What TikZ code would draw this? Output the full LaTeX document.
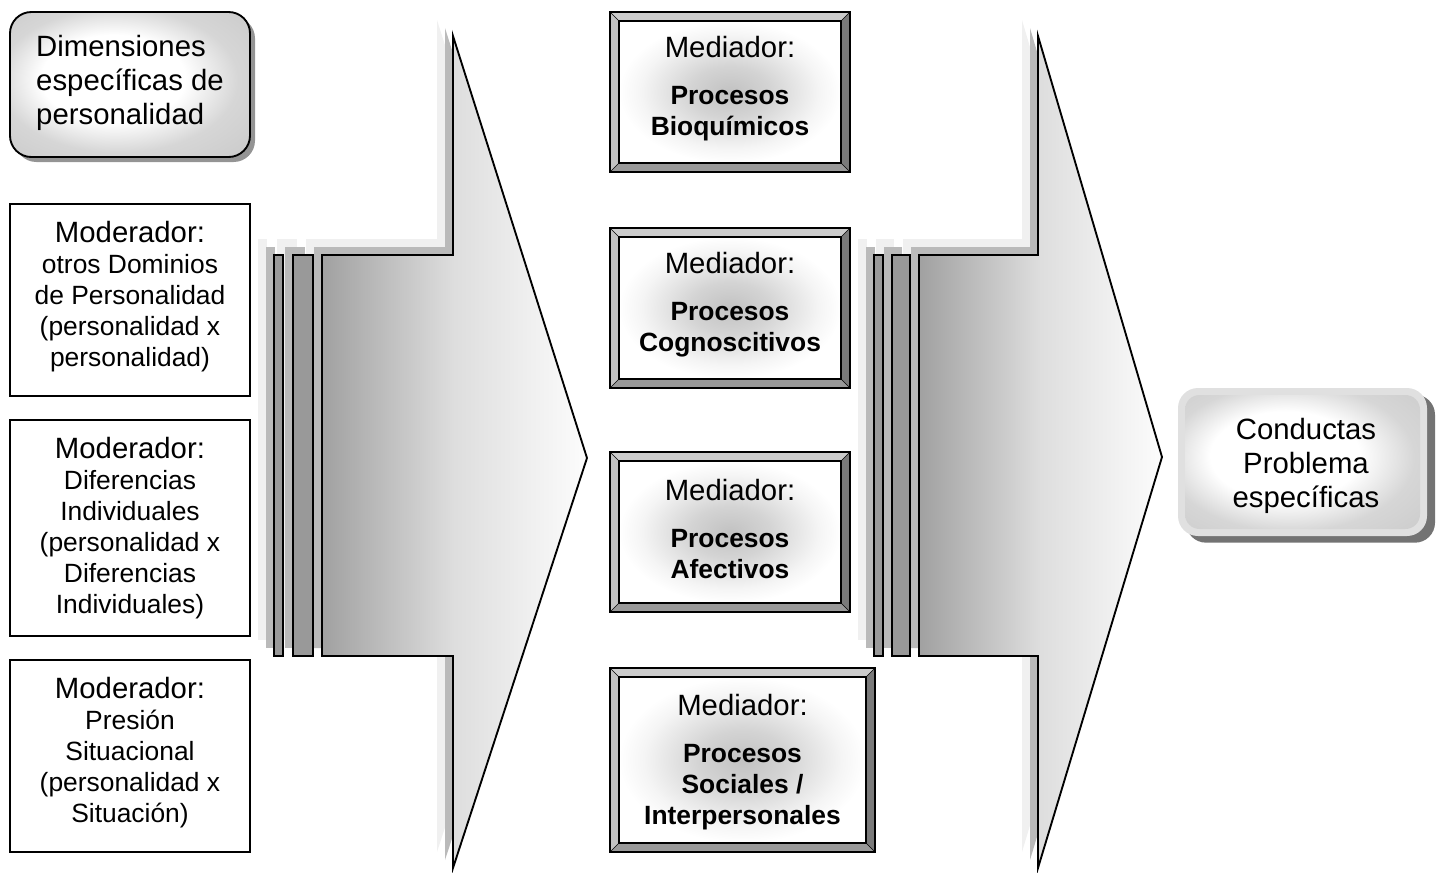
\documentclass[tikz,border=0pt]{standalone}
\usepackage{fontspec}
\setmainfont{Liberation Sans}
\usetikzlibrary{calc,shadows}

% horizontal fade of the big chevrons: dark at the tail, almost white at the tip
\pgfdeclarehorizontalshading{chevronfade}{100bp}{color(0bp)=(black!37); color(25bp)=(black!37); color(50bp)=(black!13); color(75bp)=(black!1); color(100bp)=(black!1)}
% soft glow: white centre, grey rim
\pgfdeclareradialshading{rimglow}{\pgfpoint{-5bp}{3bp}}{color(0bp)=(white); color(15bp)=(white); color(25bp)=(black!16); color(50bp)=(black!26)}
% grey haze behind the mediator labels, white towards the frame
\pgfdeclareradialshading{centrehaze}{\pgfpoint{0bp}{0bp}}{color(0bp)=(black!24); color(9bp)=(black!17); color(20bp)=(black!4); color(25bp)=(white); color(50bp)=(white)}

\tikzset{
  outline/.style={draw=black, line width=1.4pt},
  modbox/.style={outline, fill=white, minimum width=180pt, inner sep=0pt, outer sep=0pt},
  modtext/.style={align=center, inner sep=0pt, font=\fontsize{19.8}{23.25}\selectfont},
  medtext/.style={align=center, inner sep=0pt, font=\fontsize{19.8}{23.25}\selectfont\bfseries},
  bigtext/.style={inner sep=0pt, font=\fontsize{22}{25.5}\selectfont},
  farshade/.style={fill=black!6},
  nearshade/.style={fill=black!27},
  barfill/.style={fill=black!40, outline},
}

% chevron outline: #1 options, #2 tail x, #3 head x, #4 tip x, #5 tip y
\newcommand\chevronpath[5]{%
  \path[#1] (#2,255) -- (#3,255) -- (#3,36) -- (#4,#5) -- (#3,868) -- (#3,656) -- (#2,656) -- cycle;}
% vertical bar in front of a chevron: #1 options, #2 left x, #3 right x
\newcommand\barpath[3]{\path[#1] (#2,255) rectangle (#3,656);}

% bevelled mediator frame: #1 name, #2 centre x, #3 centre y, #4 width, #5 height,
% #6 label shift (px), #7 label
\newcommand\bevelbox[7]{%
  \node[minimum width=#4, minimum height=#5, inner sep=0pt, outer sep=0pt] (#1) at (#2,#3) {};
  \coordinate (#1-a) at ($(#1.north west)+(9,9)$);
  \coordinate (#1-b) at ($(#1.north east)+(-9,9)$);
  \coordinate (#1-c) at ($(#1.south east)+(-9,-9)$);
  \coordinate (#1-d) at ($(#1.south west)+(9,-9)$);
  \fill[black!20] (#1.north west) -- (#1.north east) -- (#1-b) -- (#1-a) -- cycle;
  \fill[black!24] (#1.north west) -- (#1-a) -- (#1-d) -- (#1.south west) -- cycle;
  \fill[black!52] (#1.north east) -- (#1.south east) -- (#1-c) -- (#1-b) -- cycle;
  \fill[black!40] (#1.south west) -- (#1-d) -- (#1-c) -- (#1.south east) -- cycle;
  \shade[shading=centrehaze] (#1-a) rectangle (#1-c);
  \draw[line width=0.5pt] (#1.north west) -- (#1-a) (#1.north east) -- (#1-b)
                          (#1.south east) -- (#1-c) (#1.south west) -- (#1-d);
  \draw[line width=1.1pt] (#1-a) rectangle (#1-c);
  \draw[line width=1.4pt] (#1.north west) rectangle (#1.south east);
  \node[medtext] (#1-text) at ($(#1)+(0,#6)$)
    {{\fontsize{22}{23.25}\selectfont\mdseries Mediador:}\\[12pt]#7};
}

\begin{document}
\begin{tikzpicture}[x=0.75pt, y=-0.75pt]
\useasboundingbox (0,0) rectangle (1440,872);

% ---- chevron shadows (far layer, then near layer) ----
\begin{scope}[shift={(-16,-16)}]
  \chevronpath{farshade}{322}{453}{587}{458}
  \barpath{farshade}{274}{283}
  \barpath{farshade}{293}{313}
  \chevronpath{farshade}{919}{1038}{1162}{457}
  \barpath{farshade}{874}{883}
  \barpath{farshade}{892}{910}
\end{scope}
\begin{scope}[shift={(-8,-8)}]
  \chevronpath{nearshade}{322}{453}{587}{458}
  \barpath{nearshade}{274}{283}
  \barpath{nearshade}{293}{313}
  \chevronpath{nearshade}{919}{1038}{1162}{457}
  \barpath{nearshade}{874}{883}
  \barpath{nearshade}{892}{910}
\end{scope}

% ---- chevrons and their bars ----
\chevronpath{shade, shading=chevronfade, outline, line join=miter}{322}{453}{587}{458}
\barpath{barfill}{274}{283}
\barpath{barfill}{293}{313}
\chevronpath{shade, shading=chevronfade, outline, line join=miter}{919}{1038}{1162}{457}
\barpath{barfill}{874}{883}
\barpath{barfill}{892}{910}

% ---- personality dimensions ----
\node[outline, rounded corners=16pt, minimum width=180pt, minimum height=108.75pt,
      shade, shading=rimglow,
      drop shadow={shadow xshift=3.75pt, shadow yshift=-3.75pt, opacity=1, fill=black!42}]
      (dim) at (130,84.5) {};
\node[bigtext, align=left] (dim-text) at (130,83)
  {Dimensiones\\específicas de\\personalidad};

% ---- moderators ----
\node[modbox, minimum height=144pt] (mod1) at (130,300) {};
\node[modtext] (mod1-text) at (130,297)
  {{\fontsize{22}{23.25}\selectfont Moderador:}\\otros Dominios\\de Personalidad\\(personalidad x\\personalidad)};
\node[modbox, minimum height=162pt] (mod2) at (130,528) {};
\node[modtext] (mod2-text) at (130,528)
  {{\fontsize{22}{23.25}\selectfont Moderador:}\\Diferencias\\Individuales\\(personalidad x\\Diferencias\\Individuales)};
\node[modbox, minimum height=144pt] (mod3) at (130,756) {};
\node[modtext] (mod3-text) at (130,753)
  {{\fontsize{22}{23.25}\selectfont Moderador:}\\Presión\\Situacional\\(personalidad x\\Situación)};

% ---- mediators ----
\bevelbox{med1}{730}{92}{180pt}{120pt}{-3}{Procesos\\Bioquímicos}
\bevelbox{med2}{730}{308}{180pt}{120pt}{-3}{Procesos\\Cognoscitivos}
\bevelbox{med3}{730}{532}{180pt}{120pt}{-3}{Procesos\\Afectivos}
\bevelbox{med4}{742.5}{760}{198.75pt}{138pt}{2}{Procesos\\Sociales /\\Interpersonales}

% ---- outcome ----
\node[rounded corners=15pt, minimum width=186.75pt, minimum height=111pt,
      inner sep=0pt, fill=black!12,
      drop shadow={shadow xshift=6pt, shadow yshift=-5pt, opacity=1, fill=black!55},
      path picture={\shade[shading=rimglow, rounded corners=11pt]
        ([shift={(7,7)}]path picture bounding box.north west) rectangle
        ([shift={(-7,-7)}]path picture bounding box.south east);}]
      (out) at (1302.5,462) {};
\node[bigtext, align=center] (out-text) at (1306,466)
  {Conductas\\Problema\\específicas};
\end{tikzpicture}
\end{document}
